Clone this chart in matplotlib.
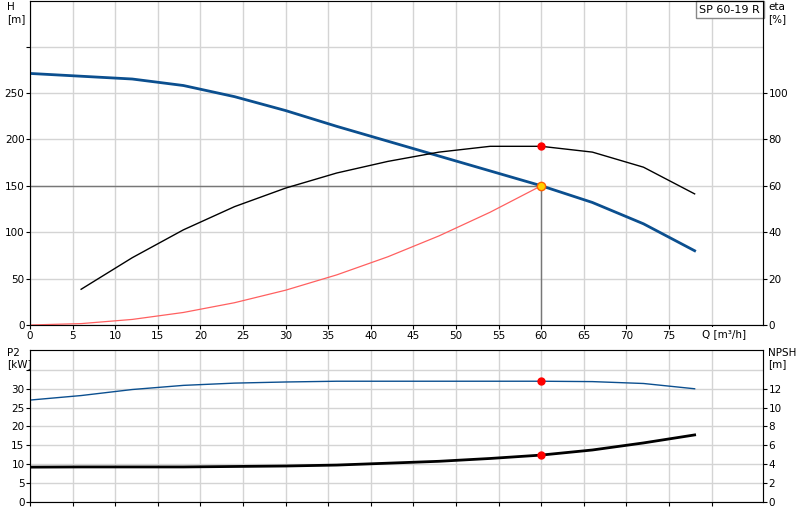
import numpy as np
import matplotlib.pyplot as plt

# кривые насоса SP 60-19 R
q = [6, 12, 18, 24, 30, 36, 42, 48, 54, 60, 66, 72, 78]
h = [268, 265, 258, 246, 231, 214, 198, 182, 166, 150, 132, 109, 80]
eta = [15.4, 29, 41, 51, 59, 65.5, 70.5, 74.5, 77, 77, 74.5, 68, 56.5]
q_sys = [0, 6, 12, 18, 24, 30, 36, 42, 48, 54, 60]
h_sys = [0, 1.5, 6, 13.5, 24, 37.5, 54, 73.5, 96, 121.5, 150]
p2 = [28.2, 29.8, 30.9, 31.5, 31.8, 32, 32, 32, 32, 32, 31.9, 31.4, 30]
npsh = [3.7, 3.7, 3.7, 3.75, 3.8, 3.9, 4.1, 4.3, 4.6, 4.96, 5.5, 6.25, 7.1]
q_duty, h_duty, eta_duty, p2_duty, npsh_duty = 60, 150, 77, 32, 4.96

blue = '#0b4f8f'
grid = '#d4d4d4'
plt.rcParams['font.size'] = 7.5

fig = plt.figure(figsize=(8, 5.2), dpi=100)
ax = fig.add_axes([0.0375, 0.375, 0.916, 0.623])
ax2 = ax.twinx()
bx = fig.add_axes([0.0375, 0.035, 0.916, 0.292])
bx2 = bx.twinx()

xmax = 86
for a in (ax, bx):
    a.set_xlim(0, xmax)
    a.set_xticks(np.arange(0, 85, 5))
    a.grid(True, color=grid, lw=1)
    a.tick_params(length=3, pad=1)
    for s in a.spines.values():
        s.set_color('#888888')

ax.set_ylim(0, 349)
ax.set_yticks([0, 50, 100, 150, 200, 250, 300])
ax.set_yticklabels(['0', '50', '100', '150', '200', '250', ''])
ax2.set_ylim(0, 349 * 0.4)
ax2.set_yticks([0, 20, 40, 60, 80, 100])
ax2.tick_params(length=3, pad=1)
ax.set_xticklabels([str(v) for v in range(0, 80, 5)] + [''])

ax.plot([0] + q, [271] + h, color=blue, lw=2, zorder=3)
ax2.plot(q, eta, color='black', lw=1)
ax.plot(q_sys, h_sys, color='#ff6060', lw=0.9)
ax.plot([0, q_duty], [h_duty, h_duty], color='#777777', lw=1)
ax.plot([q_duty, q_duty], [0, h_duty], color='#777777', lw=1)
ax.plot(q_duty, h_duty, 'o', ms=6, mfc='#ffd000', mec='#ff6000', zorder=5)
ax2.plot(q_duty, eta_duty, 'o', ms=5, color='red', zorder=5)

ax.text(-2.7, 336, 'H\n[m]', ha='left', va='center', fontsize=7.5, linespacing=1.2)
ax2.text(xmax + 0.6, 336 * 0.4, 'eta\n[%]', ha='left', va='center', fontsize=7.5,
         linespacing=1.2)
ax.text(xmax - 0.3, 345, 'SP 60-19 R', ha='right', va='top', fontsize=8,
        bbox=dict(boxstyle='square,pad=0.3', fc='white', ec='#888888'))
ax.text(81.5, -4, 'Q [m³/h]', ha='center', va='top', fontsize=7.5,
        bbox=dict(fc='white', ec='none', pad=1))

bx.set_ylim(0, 40.3)
bx.set_yticks([0, 5, 10, 15, 20, 25, 30, 35])
bx.set_yticklabels(['0', '5', '10', '15', '20', '25', '30', ''])
bx.set_xticklabels([])
bx2.set_ylim(0, 40.3 * 0.4)
bx2.set_yticks([0, 2, 4, 6, 8, 10, 12])
bx2.tick_params(length=3, pad=1)

bx.plot([0] + q, [27] + p2, color=blue, lw=1)
bx2.plot([0] + q, [3.68] + npsh, color='black', lw=2)
bx.plot(q_duty, p2_duty, 'o', ms=5, color='red', zorder=5)
bx2.plot(q_duty, npsh_duty, 'o', ms=5, color='red', zorder=5)
bx.text(-2.7, 38, 'P2\n[kW]', ha='left', va='center', fontsize=7.5, linespacing=1.2)
bx2.text(xmax + 0.6, 38 * 0.4, 'NPSH\n[m]', ha='left', va='center', fontsize=7.5,
         linespacing=1.2)

fig.savefig('out.png', dpi=100)
